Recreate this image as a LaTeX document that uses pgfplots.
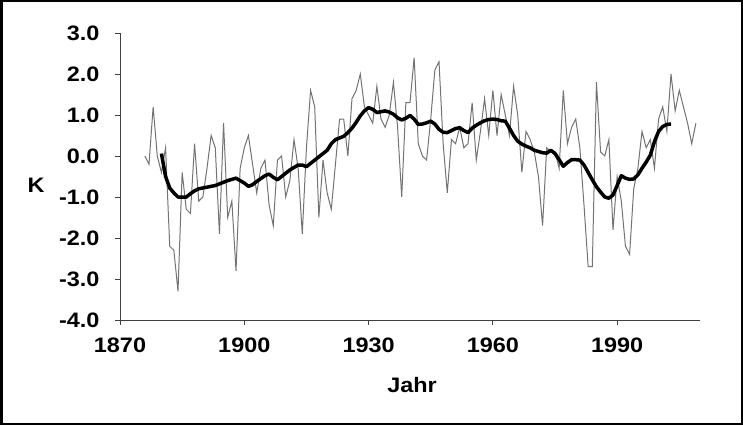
\documentclass[border=0pt]{standalone}
\usepackage{fontspec}
\setmainfont{Liberation Sans}[FakeStretch=1.12]
\usepackage{pgfplots}
\pgfplotsset{compat=1.18}
\begin{document}
\begin{tikzpicture}[x=1bp,y=1bp]
\useasboundingbox (0,0) rectangle (743,425);
\begin{axis}[
  at={(120bp,105bp)}, anchor=south west,
  scale only axis, width=580bp, height=287bp,
  xmin=1870, xmax=2010, ymin=-4, ymax=3,
  axis x line=bottom, axis y line=left,
  axis line style={-, line width=0.8bp, black!75},
  xtick={1870,1900,1930,1960,1990},
  ytick={-4,-3,-2,-1,0,1,2,3},
  tick align=outside, major tick length=5bp,
  tick style={line width=0.8bp, black!75},
  /pgf/number format/assume math mode=true,
  xticklabel style={font=\fontsize{21}{25}\selectfont\bfseries, /pgf/number format/1000 sep={}, yshift=-9bp},
  yticklabel style={font=\fontsize{21}{25}\selectfont\bfseries, /pgf/number format/fixed, /pgf/number format/precision=1, /pgf/number format/fixed zerofill, xshift=-12bp},
  clip=false,
]
\addplot[gray!90!black, line width=1bp] coordinates {
(1876,0.0)(1877,-0.2)(1878,1.2)(1879,0.0)(1880,-0.4)(1881,0.2)(1882,-2.2)(1883,-2.3)(1884,-3.3)(1885,-0.4)
(1886,-1.3)(1887,-1.4)(1888,0.3)(1889,-1.1)(1890,-1.0)(1891,-0.3)(1892,0.5)(1893,0.2)(1894,-1.9)(1895,0.8)
(1896,-1.5)(1897,-1.1)(1898,-2.8)(1899,-0.3)(1900,0.2)(1901,0.5)(1902,-0.2)(1903,-0.9)(1904,-0.3)(1905,-0.1)
(1906,-1.2)(1907,-1.7)(1908,-0.1)(1909,0.0)(1910,-1.0)(1911,-0.6)(1912,0.4)(1913,-0.3)(1914,-1.9)(1915,0.2)
(1916,1.6)(1917,1.2)(1918,-1.5)(1919,-0.1)(1920,-0.9)(1921,-1.3)(1922,-0.2)(1923,0.9)(1924,0.9)(1925,0.0)
(1926,1.4)(1927,1.6)(1928,2.0)(1929,1.2)(1930,1.0)(1931,0.8)(1932,1.7)(1933,0.9)(1934,0.7)(1935,1.0)
(1936,1.8)(1937,0.7)(1938,-1.0)(1939,1.3)(1940,1.3)(1941,2.4)(1942,0.3)(1943,0.0)(1944,-0.1)(1945,0.9)
(1946,2.1)(1947,2.3)(1948,0.3)(1949,-0.9)(1950,0.4)(1951,0.3)(1952,0.7)(1953,0.2)(1954,0.3)(1955,1.3)
(1956,-0.1)(1957,0.6)(1958,1.4)(1959,0.5)(1960,1.6)(1961,0.5)(1962,1.5)(1963,1.0)(1964,0.5)(1965,1.7)
(1966,1.0)(1967,-0.4)(1968,0.6)(1969,0.4)(1970,0.1)(1971,-0.5)(1972,-1.7)(1973,0.2)(1974,0.1)(1975,0.1)
(1976,-0.3)(1977,1.6)(1978,0.3)(1979,0.7)(1980,0.9)(1981,0.2)(1982,-1.2)(1983,-2.7)(1984,-2.7)(1985,1.8)
(1986,0.1)(1987,0.0)(1988,0.4)(1989,-1.8)(1990,-0.5)(1991,-1.1)(1992,-2.2)(1993,-2.4)(1994,-0.8)(1995,-0.3)
(1996,0.6)(1997,0.2)(1998,0.4)(1999,-0.3)(2000,0.9)(2001,1.2)(2002,0.6)(2003,2.0)(2004,1.1)(2005,1.6)
(2006,1.2)(2007,0.8)(2008,0.3)(2009,0.8)
};
\addplot[black, line width=3.5bp, line join=round] coordinates {
(1880,0.06)(1881,-0.5)(1882,-0.78)(1883,-0.9)(1884,-1.0)(1885,-1.0)(1886,-1.0)(1887,-0.92)(1888,-0.85)(1889,-0.8)
(1890,-0.78)(1891,-0.76)(1892,-0.74)(1893,-0.72)(1894,-0.68)(1895,-0.64)(1896,-0.6)(1897,-0.57)(1898,-0.54)(1899,-0.6)
(1900,-0.66)(1901,-0.74)(1902,-0.7)(1903,-0.62)(1904,-0.55)(1905,-0.48)(1906,-0.44)(1907,-0.52)(1908,-0.58)(1909,-0.5)
(1910,-0.42)(1911,-0.34)(1912,-0.28)(1913,-0.22)(1914,-0.22)(1915,-0.26)(1916,-0.18)(1917,-0.1)(1918,-0.02)(1919,0.06)
(1920,0.14)(1921,0.3)(1922,0.4)(1923,0.44)(1924,0.48)(1925,0.57)(1926,0.68)(1927,0.82)(1928,0.98)(1929,1.1)
(1930,1.18)(1931,1.14)(1932,1.06)(1933,1.08)(1934,1.1)(1935,1.07)(1936,1.02)(1937,0.93)(1938,0.88)(1939,0.92)
(1940,0.99)(1941,0.9)(1942,0.77)(1943,0.78)(1944,0.81)(1945,0.85)(1946,0.78)(1947,0.65)(1948,0.58)(1949,0.57)
(1950,0.62)(1951,0.67)(1952,0.69)(1953,0.62)(1954,0.57)(1955,0.68)(1956,0.75)(1957,0.81)(1958,0.86)(1959,0.89)
(1960,0.9)(1961,0.89)(1962,0.86)(1963,0.85)(1964,0.68)(1965,0.5)(1966,0.36)(1967,0.29)(1968,0.24)(1969,0.2)
(1970,0.14)(1971,0.11)(1972,0.08)(1973,0.07)(1974,0.14)(1975,0.06)(1976,-0.09)(1977,-0.25)(1978,-0.16)(1979,-0.09)
(1980,-0.09)(1981,-0.1)(1982,-0.22)(1983,-0.4)(1984,-0.58)(1985,-0.75)(1986,-0.88)(1987,-1.0)(1988,-1.03)(1989,-0.95)
(1990,-0.72)(1991,-0.48)(1992,-0.54)(1993,-0.57)(1994,-0.56)(1995,-0.46)(1996,-0.3)(1997,-0.15)(1998,0.02)(1999,0.35)
(2000,0.6)(2001,0.72)(2002,0.77)(2003,0.78)
};
\end{axis}
\node[font=\fontsize{21}{25}\selectfont\bfseries] at (36,240) {K};
\node[font=\fontsize{21}{25}\selectfont\bfseries] at (412,40) {Jahr};
\draw[line width=2.5bp] (1.25,1.25) rectangle (741.75,423.75);
\end{tikzpicture}
\end{document}
